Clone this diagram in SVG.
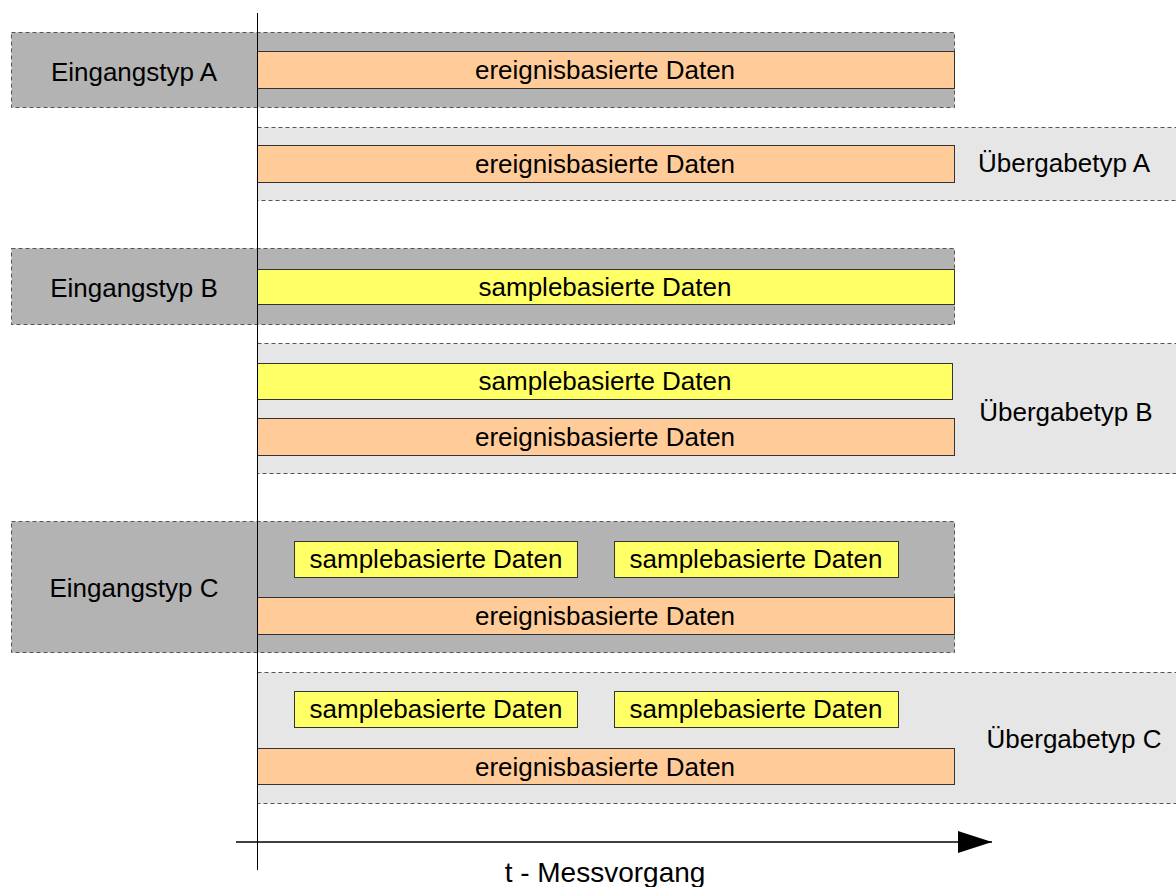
<svg xmlns="http://www.w3.org/2000/svg" width="1176" height="887" viewBox="0 0 1176 887">
<style>
text{font-family:"Liberation Sans",Arial,sans-serif;font-size:26px;fill:#000;text-anchor:middle;dominant-baseline:central}
.in{fill:#b3b3b3;stroke:#555;stroke-width:1;stroke-dasharray:4 3}
.out{fill:#e6e6e6;stroke:#555;stroke-width:1;stroke-dasharray:4 3}
.ev{fill:#ffcc99;stroke:#333;stroke-width:1}
.sm{fill:#ffff66;stroke:#333;stroke-width:1}
</style>
<defs>
<marker id="arr" markerWidth="34" markerHeight="22" refX="34" refY="11" orient="auto" markerUnits="userSpaceOnUse">
<path d="M0,0 L34,11 L0,22 Z" fill="#000"/>
</marker>
</defs>
<g id="eingang-a">
<rect class="in" x="11.5" y="32.5" width="943" height="75"/>
<rect class="ev" x="257.5" y="51.5" width="697" height="37"/>
<text x="605" y="70">ereignisbasierte Daten</text>
<text x="134" y="72">Eingangstyp A</text>
</g>
<g id="uebergabe-a">
<rect class="out" x="257.5" y="127.5" width="930" height="73"/>
<rect class="ev" x="257.5" y="145.5" width="697" height="37"/>
<text x="605" y="164">ereignisbasierte Daten</text>
<text x="1064" y="163">Übergabetyp A</text>
</g>
<g id="eingang-b">
<rect class="in" x="11.5" y="248.5" width="943" height="76"/>
<rect class="sm" x="257.5" y="269.5" width="697" height="35"/>
<text x="605" y="287">samplebasierte Daten</text>
<text x="134" y="288">Eingangstyp B</text>
</g>
<g id="uebergabe-b">
<rect class="out" x="257.5" y="343.5" width="930" height="130"/>
<rect class="sm" x="257.5" y="363.5" width="695" height="36"/>
<text x="605" y="381">samplebasierte Daten</text>
<rect class="ev" x="257.5" y="418.5" width="697" height="37"/>
<text x="605" y="437">ereignisbasierte Daten</text>
<text x="1066" y="412">Übergabetyp B</text>
</g>
<g id="eingang-c">
<rect class="in" x="11.5" y="521.5" width="943" height="131"/>
<rect class="sm" x="294.5" y="541.5" width="283" height="36"/>
<text x="436" y="559">samplebasierte Daten</text>
<rect class="sm" x="614.5" y="541.5" width="284" height="36"/>
<text x="756" y="559">samplebasierte Daten</text>
<rect class="ev" x="257.5" y="597.5" width="697" height="37"/>
<text x="605" y="616">ereignisbasierte Daten</text>
<text x="134" y="588">Eingangstyp C</text>
</g>
<g id="uebergabe-c">
<rect class="out" x="257.5" y="672.5" width="930" height="131"/>
<rect class="sm" x="294.5" y="691.5" width="283" height="36"/>
<text x="436" y="709">samplebasierte Daten</text>
<rect class="sm" x="614.5" y="691.5" width="284" height="36"/>
<text x="756" y="709">samplebasierte Daten</text>
<rect class="ev" x="257.5" y="748.5" width="697" height="36"/>
<text x="605" y="767">ereignisbasierte Daten</text>
<text x="1074" y="739">Übergabetyp C</text>
</g>
<g id="connectors">
<line x1="257.5" y1="13" x2="257.5" y2="870" stroke="#000" stroke-width="1"/>
<line x1="236" y1="842" x2="992" y2="842" stroke="#000" stroke-width="1.5" marker-end="url(#arr)"/>
</g>
<g id="axis-label">
<text x="605" y="872" style="font-size:28px">t - Messvorgang</text>
</g>
</svg>
